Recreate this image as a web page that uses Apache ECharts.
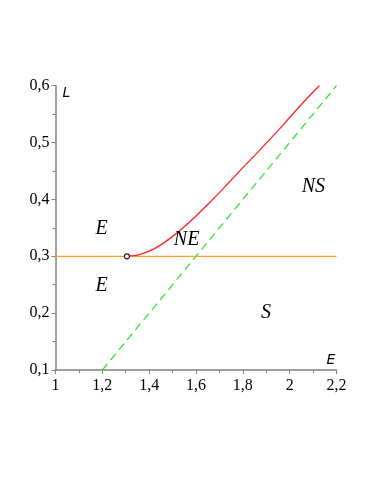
<!DOCTYPE html>
<html>
<head>
<meta charset="utf-8">
<script src="https://cdn.jsdelivr.net/npm/echarts@6/dist/echarts.min.js"></script>
<style>html,body{margin:0;padding:0;background:#fff;}#c{width:374px;height:484px;}</style>
</head>
<body>
<div id="c"></div>
<script>
// Axis ranges / ticks
const xMin = 1, xMax = 2.2, xStep = 0.2;
const yMin = 0.1, yMax = 0.6, yStep = 0.1;

// Red curve (NE boundary)
const redE = [1.305, 1.35, 1.40, 1.45, 1.50, 1.55, 1.60, 1.65, 1.70, 1.75, 1.80, 1.85, 1.90, 1.95, 2.00, 2.05, 2.10, 2.127];
const redL = [0.300, 0.302, 0.309, 0.320, 0.335, 0.352, 0.371, 0.391, 0.412, 0.434, 0.456, 0.477, 0.499, 0.521, 0.544, 0.567, 0.589, 0.600];

// Orange horizontal line L = 0.3
const orangeE = [1, 2.2];
const orangeL = [0.3, 0.3];

// Green dashed line
const greenE = [1.2, 2.2];
const greenL = [0.1, 0.6];

// Marked point
const pointE = [1.305];
const pointL = [0.3];

// Region labels
const regionNames = ['E', 'E', 'NE', 'NS', 'S'];
const regionE = [1.197, 1.197, 1.56, 2.101, 1.899];
const regionL = [0.349, 0.249, 0.329, 0.423, 0.2];

const zip = (a, b) => a.map((v, i) => [v, b[i]]);
const fmt = v => String(+(+v).toFixed(2)).replace('.', ',');

const chart = echarts.init(document.getElementById('c'), null, {renderer: 'canvas'});
const axisCol = '#808080';
chart.setOption({
  animation: false,
  backgroundColor: '#fff',
  grid: {left: 55.5, right: 37.5, top: 85.7, bottom: 114, containLabel: false},
  xAxis: {
    type: 'value', min: xMin, max: xMax, interval: xStep,
    name: 'E', nameLocation: 'end', nameGap: -10,
    nameTextStyle: {fontFamily: 'DejaVu Sans', fontStyle: 'italic', fontSize: 14, color: '#000', align: 'left', verticalAlign: 'bottom', padding: [0, 0, 3, 0]},
    axisLine: {show: true, lineStyle: {color: axisCol, width: 1.5}},
    axisTick: {show: true, length: 4, lineStyle: {color: axisCol, width: 1}},
    minorTick: {show: true, splitNumber: 2, length: 3, lineStyle: {color: axisCol, width: 1}},
    splitLine: {show: false},
    axisLabel: {fontFamily: 'Liberation Serif', fontSize: 16, color: '#000', margin: 8, showMinLabel: true, showMaxLabel: true, formatter: fmt}
  },
  yAxis: {
    type: 'value', min: yMin, max: yMax, interval: yStep,
    name: 'L', nameLocation: 'end', nameGap: -8,
    nameTextStyle: {fontFamily: 'DejaVu Sans', fontStyle: 'italic', fontSize: 14, color: '#000', align: 'left', verticalAlign: 'middle', padding: [0, 0, 0, 7]},
    axisLine: {show: true, lineStyle: {color: axisCol, width: 1.5}},
    axisTick: {show: true, length: 4, lineStyle: {color: axisCol, width: 1}},
    minorTick: {show: true, splitNumber: 2, length: 3, lineStyle: {color: axisCol, width: 1}},
    splitLine: {show: false},
    axisLabel: {fontFamily: 'Liberation Serif', fontSize: 16, color: '#000', margin: 6, showMinLabel: true, showMaxLabel: true, formatter: fmt}
  },
  series: [
    {type: 'line', data: zip(orangeE, orangeL), symbol: 'none', lineStyle: {color: '#ffa020', width: 1.3}, z: 2},
    {type: 'line', data: zip(greenE, greenL), symbol: 'none', lineStyle: {color: '#33e633', width: 1.3, type: [8, 5]}, z: 3},
    {type: 'line', data: zip(redE, redL), symbol: 'none', smooth: 0.2, lineStyle: {color: '#ff2020', width: 1.3}, z: 4},
    {type: 'scatter', data: zip(pointE, pointL), symbol: 'circle', symbolSize: 5, itemStyle: {color: '#ffffff', borderColor: '#222', borderWidth: 1.2, opacity: 1}, z: 5},
    {type: 'scatter', data: regionE.map((e, i) => [e, regionL[i], regionNames[i]]), symbol: 'circle', symbolSize: 1,
     itemStyle: {color: 'rgba(255,255,255,0)', opacity: 1}, silent: true,
     label: {show: true, position: 'inside', formatter: p => p.data[2], fontFamily: 'Liberation Serif', fontStyle: 'italic', fontSize: 20, color: '#000', opacity: 1}, z: 6}
  ]
});
</script>
</body>
</html>
